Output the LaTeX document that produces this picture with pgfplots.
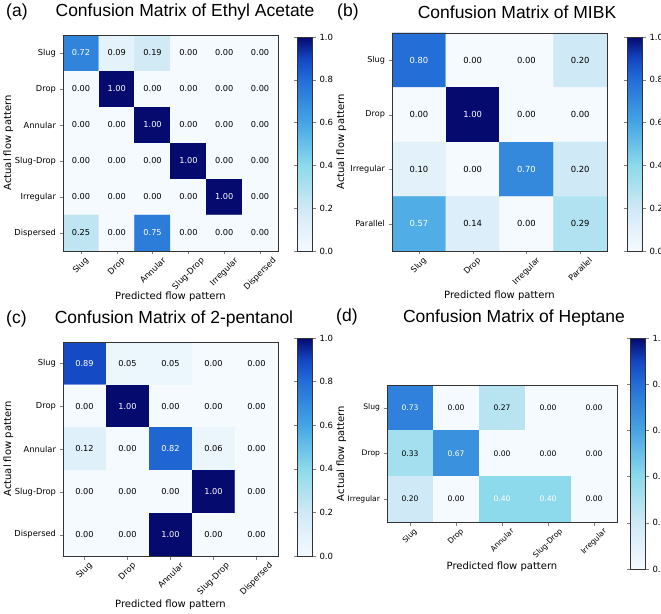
\documentclass[border=0pt]{standalone}
\usepackage{pgfplots}
\pgfplotsset{compat=1.18}
\usepackage{pgfplotstable}
\usepackage{graphicx}
\usepackage{fontspec}
\setmainfont{DejaVu Sans}
\newfontfamily\titlefont{Liberation Sans}

\pgfplotsset{colormap={myblues}{rgb255(0cm)=(245,250,255) rgb255(2cm)=(208,233,246) rgb255(4cm)=(140,218,235) rgb255(6cm)=(70,165,228) rgb255(8cm)=(35,110,215) rgb255(9cm)=(20,70,195) rgb255(10cm)=(5,10,110)}}

\newcommand\rl[1]{\rotatebox{45}{#1}}
\newcommand\cellnum[2]{\ifdim#1pt>#2pt\color{white}\else\color{black}\fi#1}

\pgfplotsset{
 cmat/.style={
   scale only axis, colormap name=myblues, point meta min=0, point meta max=1,
   enlargelimits=false,
   y dir=reverse, axis on top, tick pos=left, tick align=outside,
   major tick length=3.5pt,
   axis line style={black!80, line width=0.7pt},
   tick label style={font=\fontsize{#1}{10}\selectfont},
   xticklabel style={anchor=north, inner sep=2pt},
   label style={font=\fontsize{10}{12}\selectfont},
   xlabel={Predicted flow pattern}, ylabel={Actual flow pattern},
   colorbar,
 },
 mycbar/.style={
   scale only axis, width=15pt, ytick={0,0.2,0.4,0.6,0.8,1},
   yticklabel style={font=\fontsize{8.5}{10}\selectfont},
   /pgf/number format/fixed, /pgf/number format/fixed zerofill, /pgf/number format/precision=1, /pgf/number format/assume math mode=true,
   axis line style={black!80, line width=0.7pt},
   tick align=outside, major tick length=3.5pt,
 },
 mycells/.style 2 args={draw=none, mark=none, point meta=explicit symbolic,
   nodes near coords={\cellnum{\pgfplotspointmeta}{#1}},
   every node near coord/.append style={anchor=center, font=\fontsize{#2}{10}\selectfont}},
}

\pgfplotstableread{
x y c
0 0 0.72
1 0 0.09
2 0 0.19
3 0 0.00
4 0 0.00
5 0 0.00
0 1 0.00
1 1 1.00
2 1 0.00
3 1 0.00
4 1 0.00
5 1 0.00
0 2 0.00
1 2 0.00
2 2 1.00
3 2 0.00
4 2 0.00
5 2 0.00
0 3 0.00
1 3 0.00
2 3 0.00
3 3 1.00
4 3 0.00
5 3 0.00
0 4 0.00
1 4 0.00
2 4 0.00
3 4 0.00
4 4 1.00
5 4 0.00
0 5 0.25
1 5 0.00
2 5 0.75
3 5 0.00
4 5 0.00
5 5 0.00
}\tabA

\pgfplotstableread{
x y c
0 0 0.80
1 0 0.00
2 0 0.00
3 0 0.20
0 1 0.00
1 1 1.00
2 1 0.00
3 1 0.00
0 2 0.10
1 2 0.00
2 2 0.70
3 2 0.20
0 3 0.57
1 3 0.14
2 3 0.00
3 3 0.29
}\tabB

\pgfplotstableread{
x y c
0 0 0.89
1 0 0.05
2 0 0.05
3 0 0.00
4 0 0.00
0 1 0.00
1 1 1.00
2 1 0.00
3 1 0.00
4 1 0.00
0 2 0.12
1 2 0.00
2 2 0.82
3 2 0.06
4 2 0.00
0 3 0.00
1 3 0.00
2 3 0.00
3 3 1.00
4 3 0.00
0 4 0.00
1 4 0.00
2 4 1.00
3 4 0.00
4 4 0.00
}\tabC

\pgfplotstableread{
x y c
0 0 0.73
1 0 0.00
2 0 0.27
3 0 0.00
4 0 0.00
0 1 0.33
1 1 0.67
2 1 0.00
3 1 0.00
4 1 0.00
0 2 0.20
1 2 0.00
2 2 0.40
3 2 0.40
4 2 0.00
}\tabD

\begin{document}
\begin{tikzpicture}
\useasboundingbox (0,0) rectangle (661pt,613pt);

% (a)
\begin{axis}[cmat=8.3, at={(63pt,362pt)}, anchor=south west, width=215pt, height=216pt,
  xmin=-0.5, xmax=5.5, ymin=-0.5, ymax=5.5,
  xtick={0,...,5}, ytick={0,...,5},
  xticklabels={\rl{Slug},\rl{Drop},\rl{Annular},\rl{Slug-Drop},\rl{Irregular},\rl{Dispersed}},
  yticklabels={Slug,Drop,Annular,Slug-Drop,Irregular,Dispersed},
  xlabel style={at={(axis description cs:0.5,0)}, anchor=center, yshift=-46pt},
  ylabel style={at={(axis description cs:-0.254,0.5)}, anchor=center},
  colorbar style={mycbar, at={(parent axis.south east)}, anchor=south west, xshift=11pt, height=214pt}]
\addplot[matrix plot*, mesh/cols=6, point meta=explicit] table[meta=c] {\tabA};
\addplot[mycells={0.5}{8.2}] table[meta=c] {\tabA};
\end{axis}

% (b)
\begin{axis}[cmat=8.1, at={(392pt,362pt)}, anchor=south west, width=215pt, height=218pt,
  xmin=-0.5, xmax=3.5, ymin=-0.5, ymax=3.5,
  xtick={0,...,3}, ytick={0,...,3},
  xticklabels={\rl{Slug},\rl{Drop},\rl{Irregular},\rl{Parallel}},
  yticklabels={Slug,Drop,Irregular,Parallel},
  xlabel style={at={(axis description cs:0.5,0)}, anchor=center, yshift=-45pt},
  ylabel style={at={(axis description cs:-0.235,0.5)}, anchor=center},
  colorbar style={mycbar, at={(parent axis.south east)}, anchor=south west, xshift=12pt, height=214pt}]
\addplot[matrix plot*, mesh/cols=4, point meta=explicit] table[meta=c] {\tabB};
\addplot[mycells={0.5}{8.4}] table[meta=c] {\tabB};
\end{axis}

% (c)
\begin{axis}[cmat=8.3, at={(63pt,57pt)}, anchor=south west, width=215pt, height=214pt,
  xmin=-0.5, xmax=4.5, ymin=-0.5, ymax=4.5,
  xtick={0,...,4}, ytick={0,...,4},
  xticklabels={\rl{Slug},\rl{Drop},\rl{Annular},\rl{Slug-Drop},\rl{Dispersed}},
  yticklabels={Slug,Drop,Annular,Slug-Drop,Dispersed},
  xlabel style={at={(axis description cs:0.5,0)}, anchor=center, yshift=-49pt},
  ylabel style={at={(axis description cs:-0.254,0.5)}, anchor=center},
  colorbar style={mycbar, at={(parent axis.south east)}, anchor=south west, xshift=11pt, height=218pt}]
\addplot[matrix plot*, mesh/cols=5, point meta=explicit] table[meta=c] {\tabC};
\addplot[mycells={0.5}{8.2}] table[meta=c] {\tabC};
\end{axis}

% (d)
\begin{axis}[cmat=7.6, at={(387pt,91pt)}, anchor=south west, width=230pt, height=137pt,
  xmin=-0.5, xmax=4.5, ymin=-0.5, ymax=2.5,
  xtick={0,...,4}, ytick={0,...,2},
  xticklabels={\rl{Slug},\rl{Drop},\rl{Annular},\rl{Slug-Drop},\rl{Irregular}},
  yticklabels={Slug,Drop,Irregular},
  xlabel style={at={(axis description cs:0.5,0)}, anchor=center, yshift=-45pt},
  ylabel style={at={(axis description cs:-0.198,0.5)}, anchor=center},
  colorbar style={mycbar, at={(parent axis.east)}, anchor=west, xshift=5pt, height=231pt}]
\addplot[matrix plot*, mesh/cols=5, point meta=explicit] table[meta=c] {\tabD};
\addplot[mycells={0.365}{7.6}] table[meta=c] {\tabD};
\end{axis}

\tikzset{ttl/.style={font=\titlefont\fontsize{17.5}{20}\selectfont, inner sep=0pt}}
\node[ttl] at (185pt,601pt) {Confusion Matrix of Ethyl Acetate};
\node[ttl, anchor=west] at (6pt,601pt) {(a)};
\node[ttl] at (517pt,601pt) {Confusion Matrix of MIBK};
\node[ttl, anchor=west] at (337pt,601pt) {(b)};
\node[ttl] at (174pt,294pt) {Confusion Matrix of 2-pentanol};
\node[ttl, anchor=west] at (6pt,294pt) {(c)};
\node[ttl] at (514pt,295pt) {Confusion Matrix of Heptane};
\node[ttl, anchor=west] at (336pt,296pt) {(d)};
\end{tikzpicture}
\end{document}
